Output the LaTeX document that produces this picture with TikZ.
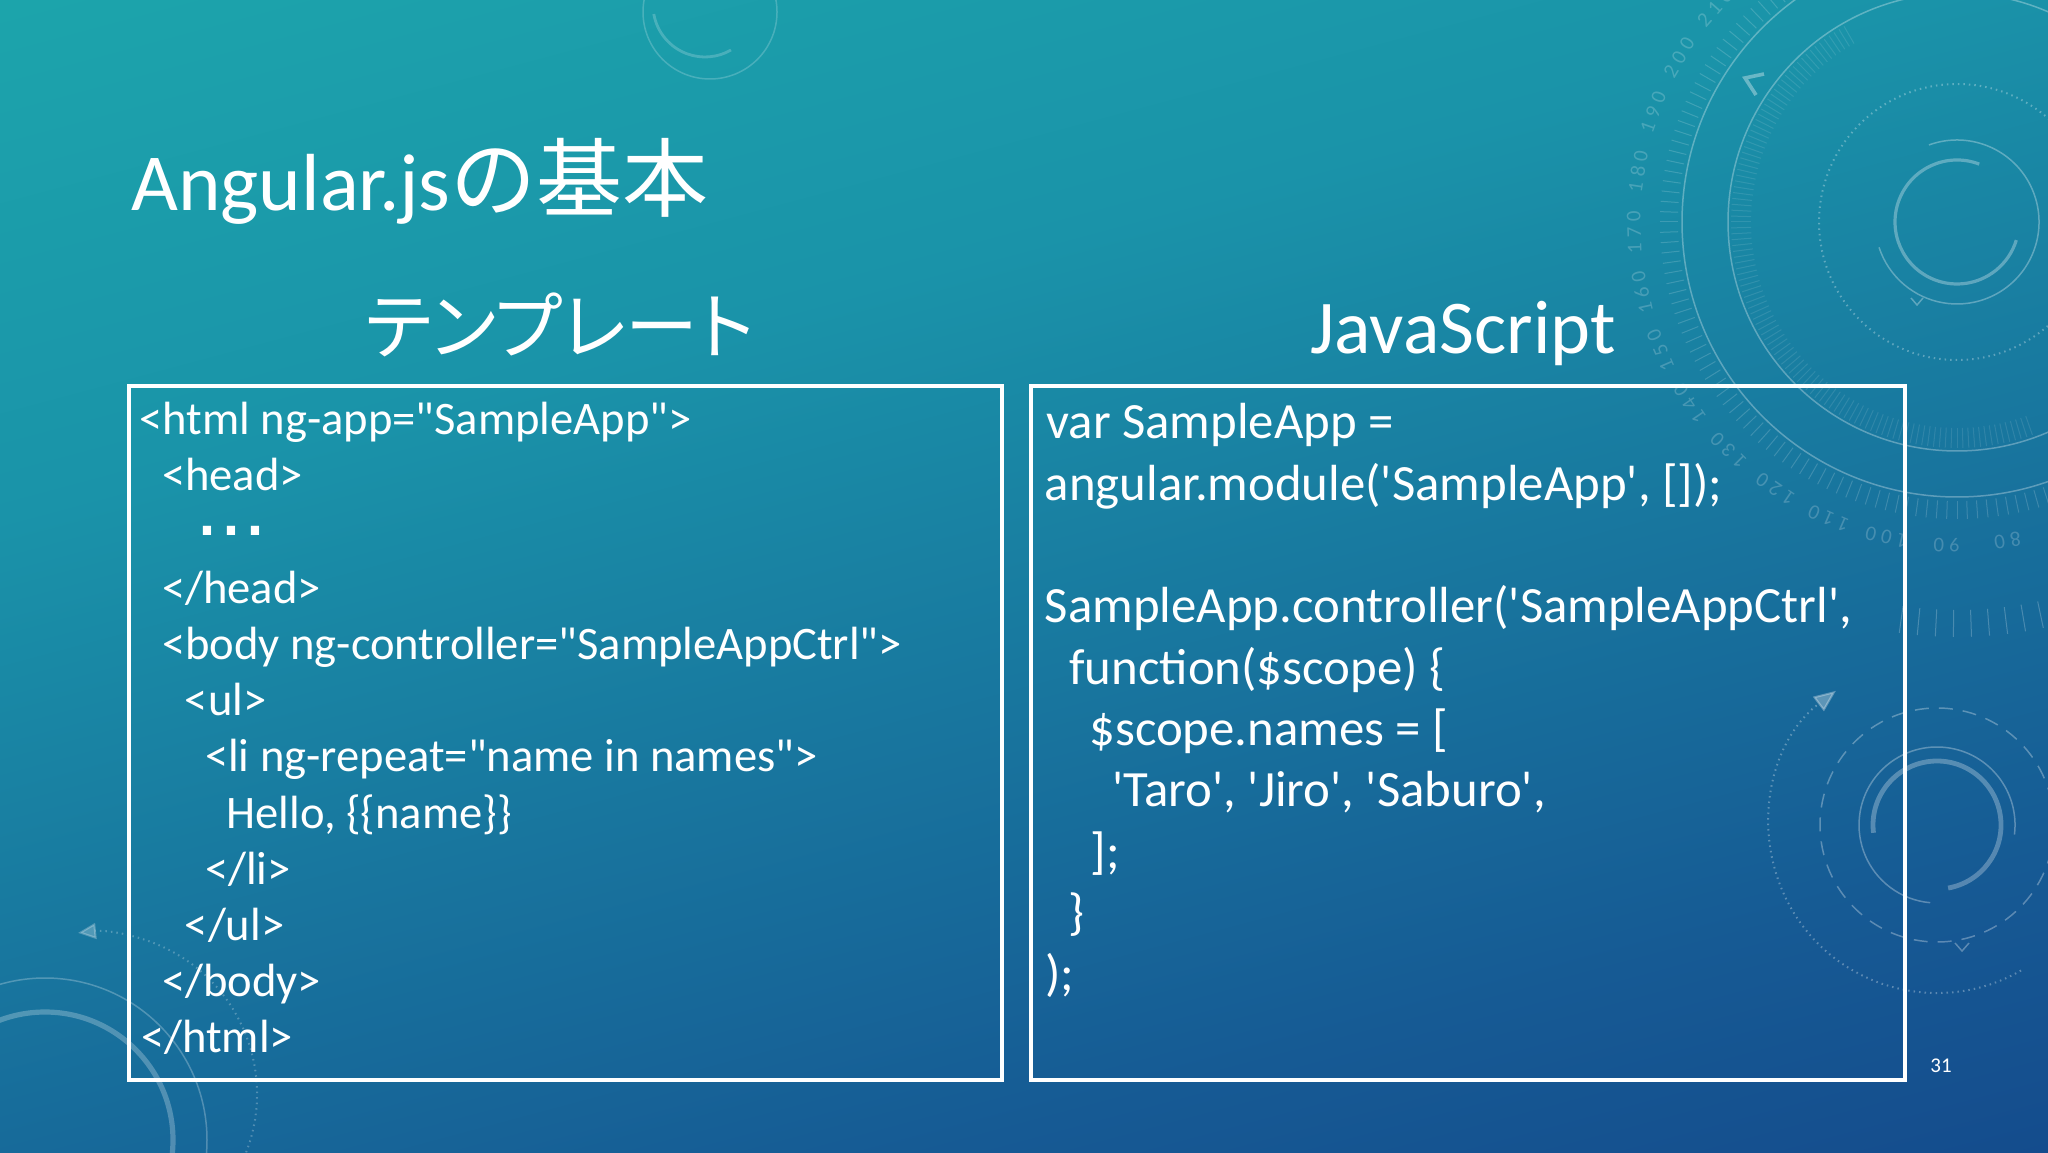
\documentclass[tikz,border=0pt]{standalone}
\usepackage{fontspec}
\setmainfont{Carlito}[Ligatures=TeXOff]
\newfontfamily\jpfont{Noto Sans CJK JP}[RawFeature=+palt]
\newfontfamily\jptitle{Noto Sans CJK JP}
\newfontfamily\dotfont{Liberation Sans}[Ligatures=TeXOff]
\newfontfamily\dialfont{Carlito}[LetterSpace=25,Ligatures=TeXOff]
\usetikzlibrary{arrows.meta}
\definecolor{bgtop}{HTML}{1FB6AE}
\definecolor{bgup}{HTML}{1A93A9}
\definecolor{bgmid}{HTML}{165A94}
\definecolor{bgbot}{HTML}{113380}
\pgfdeclareverticalshading{slidebg}{100bp}{color(0bp)=(bgbot); color(30bp)=(bgmid); color(62bp)=(bgup); color(100bp)=(bgtop)}
\begin{document}
\begin{tikzpicture}[x=0.5pt,y=0.5pt,
  deco/.style={draw=white, opacity=0.3, line width=0.75pt},
  tickmark/.style={draw=white, opacity=0.16, line width=0.5pt},
  codebox/.style={draw=white, line width=2.2pt},
  lcode/.style={anchor=base west, inner sep=0pt, text=white, font=\fontsize{23.3}{28}\selectfont},
  rcode/.style={anchor=base west, inner sep=0pt, text=white, font=\fontsize{25.4}{30}\selectfont},
  heading/.style={anchor=base, inner sep=0pt, text=white},
  dialnum/.style={text=white, opacity=0.2, inner sep=0pt, font=\dialfont\fontsize{10.5}{12}\selectfont}]
\useasboundingbox (0,0) rectangle (2048,1152);
\shade[shading=slidebg, shading angle=15] (0,0) rectangle (2048,1152);

\begin{scope}
\clip (0,0) rectangle (2048,1152);
% big dial top right
\begin{scope}[shift={(1957,930)}]
  \draw[deco] (0,0) circle[radius=275];
  \draw[deco] (0,0) circle[radius=229];
  \draw[deco, dotted, line width=1pt] (0,0) circle[radius=138];
  \draw[deco] (110:82) arc[start angle=110, end angle=-162, radius=82];
  \draw[deco, line width=1.6pt] (69:62) arc[start angle=69, end angle=343, radius=62];
  \foreach \a in {96,98,...,300} \draw[tickmark] (\a:279) -- (\a:297);
  \foreach \a in {120,121.5,...,290} \draw[tickmark, opacity=0.1] (\a:206) -- (\a:226);
  \foreach \a in {262,264.5,...,300} \draw[tickmark, opacity=0.22] (\a:388) -- (\a:415);
  \foreach \n in {210,200,...,70} {
    \pgfmathsetmacro\ang{149.4+(200-\n)*1.08}
    \node[dialnum, rotate=\ang-90] at (\ang:323) {\n};
  }
\end{scope}
\draw[deco, line width=1.8pt, opacity=0.35] (1764,1078) -- (1745,1074) -- (1756,1057);
\draw[deco] (1911,854) -- (1917,847) -- (1923,854);
% bottom right dial
\begin{scope}[shift={(1937,327)}]
  \draw[deco, line width=2.4pt, opacity=0.28] (187:64) arc[start angle=187, end angle=-80, radius=64];
  \draw[deco] (-7:78) arc[start angle=-7, end angle=265, radius=78];
  \draw[deco, dash pattern=on 7pt off 5pt] (0,0) circle[radius=117];
  \draw[deco, dotted, line width=1pt, -{Triangle[length=11pt,width=9pt]}] (300:168) arc[start angle=300, end angle=127, radius=168];
\end{scope}
\draw[deco] (1955,209) -- (1962,201) -- (1969,209);
% bottom left arcs
\draw[deco, opacity=0.25] (45,12) circle[radius=162];
\draw[deco, line width=2.6pt, opacity=0.25] (45,12) circle[radius=128];
\draw[deco, dotted, line width=1pt, opacity=0.25, -{Triangle[length=9pt,width=8pt]}] ([shift={(95,58)}]-25:162) arc[start angle=-25, end angle=96, radius=162];
% top middle
\draw[deco, opacity=0.2] (710,1140) circle[radius=67];
\draw[deco, line width=1.4pt, opacity=0.2] ([shift={(705,1147)}]190:52) arc[start angle=190, end angle=300, radius=52];
\end{scope}

% title and headings
\node[anchor=base west, inner sep=0pt, text=white] (title) at (131,941)
  {\fontsize{40.5}{46}\selectfont Angular.js{\jptitle\fontsize{43}{48}\selectfont の基本}};
\node[heading] (hleft) at (560,798) {\jpfont\fontsize{36.5}{42}\selectfont テンプレート};
\node[heading] (hright) at (1463,798) {\fontsize{38}{44}\selectfont JavaScript};

% boxes
\draw[codebox] (129,766) rectangle (1002,72);
\draw[codebox] (1031,766) rectangle (1905,72);

% left code
\node[lcode] (l1) at (139,717.4) {<html ng-app="SampleApp">};
\node[lcode] (l2) at (161.6,661.2) {<head>};
\node[anchor=base west, inner sep=0pt, text=white, font=\dotfont\fontsize{43}{48}\selectfont] (l3) at (195,616) {...};
\node[lcode] (l4) at (161.6,548.8) {</head>};
\node[lcode] (l5) at (161.6,492.6) {<body ng-controller="SampleAppCtrl">};
\node[lcode] (l6) at (184.4,436.4) {<ul>};
\node[lcode] (l7) at (204.7,380.2) {<li ng-repeat="name in names">};
\node[lcode] (l8) at (226.3,324.0) {Hello, \{\{name\}\}};
\node[lcode] (l9) at (204.7,267.8) {</li>};
\node[lcode] (l10) at (184.4,211.6) {</ul>};
\node[lcode] (l11) at (161.6,155.4) {</body>};
\node[lcode] (l12) at (140.7,99.2) {</html>};

% right code
\node[rcode] (r1) at (1046,713) {var SampleApp =};
\node[rcode] (r2) at (1044.5,651.7) {angular.module('SampleApp', []);};
\node[rcode] (r4) at (1044.5,529.1) {SampleApp.controller('SampleAppCtrl',};
\node[rcode] (r5) at (1069,467.8) {function(\$scope) \{};
\node[rcode] (r6) at (1089,406.5) {\$scope.names = [};
\node[rcode] (r7) at (1112,345.2) {'Taro', 'Jiro', 'Saburo',};
\node[rcode] (r8) at (1090,283.9) {];};
\node[rcode] (r9) at (1068,222.6) {\}};
\node[rcode] (r10) at (1045,161.3) {);};

% page number
\node[anchor=base west, inner sep=0pt, text=white, font=\fontsize{10.5}{12}\selectfont] (pnum) at (1930,80) {31};
\end{tikzpicture}
\end{document}
